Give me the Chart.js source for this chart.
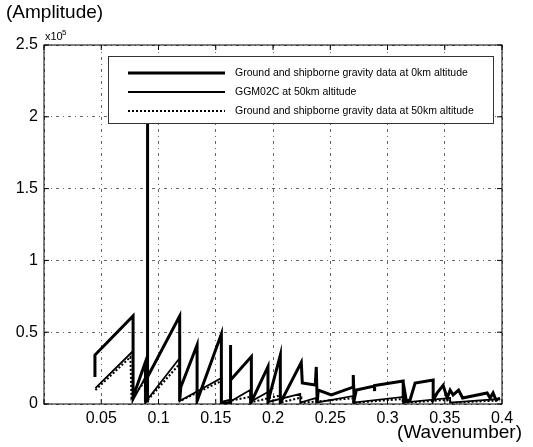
<!DOCTYPE html>
<html>
<head>
<meta charset="utf-8">
<script src="https://cdn.jsdelivr.net/npm/chart.js@4"></script>
<style>
    html, body { margin: 0; padding: 0; background: #fff; }
    #wrap { width: 533px; height: 447px; }
</style>
</head>
<body>
<div id="wrap"><canvas id="chart" width="533" height="447"></canvas></div>
<script>
// Ground and shipborne gravity data at 0km altitude (thick line)
const wave0km = [0.0445, 0.0445, 0.0778, 0.0778, 0.0886, 0.0886, 0.0901, 0.0901, 0.0908, 0.1185, 0.1185, 0.1195, 0.1337, 0.1337,
    0.1549, 0.1549, 0.1627, 0.1627, 0.1632, 0.1811, 0.1811, 0.1956, 0.1956, 0.2064, 0.2064, 0.2247, 0.2256, 0.2369, 0.2378, 0.2386,
    0.2395, 0.2509, 0.2701, 0.2701, 0.2709, 0.2727, 0.2885, 0.2885, 0.2890, 0.3137, 0.3137, 0.3150, 0.3165, 0.3197, 0.3241, 0.3399,
    0.3399, 0.3434, 0.3486, 0.3521, 0.3547, 0.3573, 0.3621, 0.3656, 0.3870, 0.3896, 0.3922, 0.3948, 0.3983];
const amp0km = [0.188, 0.341, 0.613, 0.049, 0.292, 0.021, 0.021, 2.30, 0.188, 0.613, 0.021, 0.118, 0.411, 0.021,
    0.487, 0.007, 0.007, 0.411, 0.167, 0.33, 0.014, 0.26, 0.014, 0.34, 0.007, 0.29, 0.146, 0.132, 0.258, 0.007,
    0.097, 0.063, 0.118, 0.202, 0.028, 0.097, 0.125, 0.09, 0.128, 0.16, 0.014, 0.09, 0.02, 0.028, 0.146, 0.167,
    0.028, 0.077, 0.13, 0.042, 0.097, 0.063, 0.097, 0.042, 0.077, 0.042, 0.077, 0.028, 0.042];

// GGM02C at 50km altitude (thin line)
const waveGgm = [0.0449, 0.0778, 0.0778, 0.0886, 0.0886, 0.1185, 0.1185, 0.1549, 0.1549, 0.1627, 0.1627, 0.1635, 0.1800, 0.1800,
    0.1956, 0.1956, 0.2238, 0.2238, 0.2378, 0.2378, 0.2701, 0.2701, 0.3137, 0.3137, 0.3547, 0.3547, 0.3983];
const ampGgm = [0.111, 0.369, 0.028, 0.188, 0.014, 0.32, 0.021, 0.181, 0.014, 0.03, 0.08, 0.02, 0.097, 0.014,
    0.084, 0.014, 0.07, 0.01, 0.042, 0.01, 0.056, 0.01, 0.049, 0.01, 0.042, 0.01, 0.035];

// Ground and shipborne gravity data at 50km altitude (dotted line)
const wave50km = [0.0449, 0.0755, 0.0764, 0.0886, 0.0886, 0.1185, 0.1185, 0.1549, 0.1549, 0.1800, 0.1800, 0.2064, 0.2064,
    0.2247, 0.2247, 0.2701, 0.2701, 0.3137, 0.3137, 0.3547, 0.3547, 0.3983];
const amp50km = [0.097, 0.327, 0.042, 0.16, 0.01, 0.28, 0.02, 0.16, 0.01, 0.05, 0.01, 0.06, 0.01,
    0.045, 0.008, 0.04, 0.008, 0.035, 0.008, 0.03, 0.008, 0.025];

const seriesLabels = [
    'Ground and shipborne gravity data at 0km altitude',
    'GGM02C at 50km altitude',
    'Ground and shipborne gravity data at 50km altitude'
];

const FONT = '"Liberation Sans", Arial, sans-serif';

const toPoints = (xs, ys) => xs.map((x, i) => ({ x: x, y: ys[i] }));

const lineStyles = [
    { width: 3, dash: [] },
    { width: 1.8, dash: [] },
    { width: 2, dash: [2, 2] }
];

// Box, inward ticks, legend and axis captions (MATLAB look)
const framePlugin = {
    id: 'frame',
    afterDatasetsDraw(chart) {
        const { ctx, chartArea: a, scales } = chart;
        ctx.save();
        ctx.strokeStyle = '#000';
        ctx.lineWidth = 1;
        ctx.setLineDash([]);
        ctx.strokeRect(a.left, a.top, a.right - a.left, a.bottom - a.top);

        const tl = 5;
        ctx.beginPath();
        scales.x.ticks.forEach(t => {
            const px = scales.x.getPixelForValue(t.value);
            ctx.moveTo(px, a.bottom); ctx.lineTo(px, a.bottom - tl);
            ctx.moveTo(px, a.top); ctx.lineTo(px, a.top + tl);
        });
        scales.y.ticks.forEach(t => {
            const py = scales.y.getPixelForValue(t.value);
            ctx.moveTo(a.left, py); ctx.lineTo(a.left + tl, py);
            ctx.moveTo(a.right, py); ctx.lineTo(a.right - tl, py);
        });
        ctx.stroke();

        // legend box inside the plot
        const lx = 108, ly = 56, lw = 385, lh = 67;
        ctx.fillStyle = '#fff';
        ctx.fillRect(lx, ly, lw, lh);
        ctx.strokeStyle = '#333';
        ctx.strokeRect(lx + 0.5, ly + 0.5, lw, lh);
        ctx.font = '10.5px ' + FONT;
        ctx.textBaseline = 'middle';
        const rows = [73, 92, 111];
        seriesLabels.forEach((label, i) => {
            ctx.strokeStyle = '#000';
            ctx.lineWidth = lineStyles[i].width;
            ctx.setLineDash(lineStyles[i].dash);
            ctx.beginPath();
            ctx.moveTo(128, rows[i]);
            ctx.lineTo(225, rows[i]);
            ctx.stroke();
            ctx.fillStyle = '#000';
            ctx.fillText(label, 235, rows[i]);
        });
        ctx.setLineDash([]);

        // captions
        ctx.fillStyle = '#000';
        ctx.textBaseline = 'alphabetic';
        ctx.font = '19px ' + FONT;
        ctx.textAlign = 'left';
        ctx.fillText('(Amplitude)', 6, 18);
        ctx.textAlign = 'right';
        ctx.fillText('(Wavenumber)', 522, 438);
        ctx.textAlign = 'left';
        ctx.font = '11px ' + FONT;
        ctx.fillText('x10', 45, 40);
        ctx.font = '8px ' + FONT;
        ctx.fillText('5', 62, 35);
        ctx.restore();
    }
};

new Chart(document.getElementById('chart').getContext('2d'), {
    type: 'line',
    data: {
        datasets: [
            { label: seriesLabels[0], data: toPoints(wave0km, amp0km), borderColor: '#000', borderWidth: lineStyles[0].width },
            { label: seriesLabels[1], data: toPoints(waveGgm, ampGgm), borderColor: '#000', borderWidth: lineStyles[1].width },
            { label: seriesLabels[2], data: toPoints(wave50km, amp50km), borderColor: '#000', borderWidth: lineStyles[2].width, borderDash: lineStyles[2].dash }
        ]
    },
    options: {
        responsive: false,
        animation: false,
        devicePixelRatio: 1,
        layout: { padding: { top: 45, right: 31, left: 0, bottom: 0 } },
        elements: {
            point: { radius: 0 },
            line: { tension: 0, fill: false }
        },
        plugins: {
            legend: { display: false },
            tooltip: { enabled: false }
        },
        scales: {
            x: {
                type: 'linear',
                min: 0,
                max: 0.4,
                afterFit: scale => { scale.height = 43; },
                ticks: {
                    stepSize: 0.05,
                    padding: 5,
                    color: '#000',
                    font: { family: FONT, size: 16 },
                    maxRotation: 0,
                    callback: v => (v === 0 ? '' : String(parseFloat(v.toFixed(2))))
                },
                grid: { color: '#666', lineWidth: 1, drawTicks: false },
                border: { display: false, dash: [3, 4, 1, 4] }
            },
            y: {
                min: 0,
                max: 2.5,
                afterFit: scale => { scale.width = 44; },
                ticks: {
                    stepSize: 0.5,
                    padding: 6,
                    color: '#000',
                    font: { family: FONT, size: 16 },
                    callback: v => String(parseFloat(v.toFixed(1)))
                },
                grid: { color: '#666', lineWidth: 1, drawTicks: false },
                border: { display: false, dash: [3, 4, 1, 4] }
            }
        }
    },
    plugins: [framePlugin]
});
</script>
</body>
</html>
